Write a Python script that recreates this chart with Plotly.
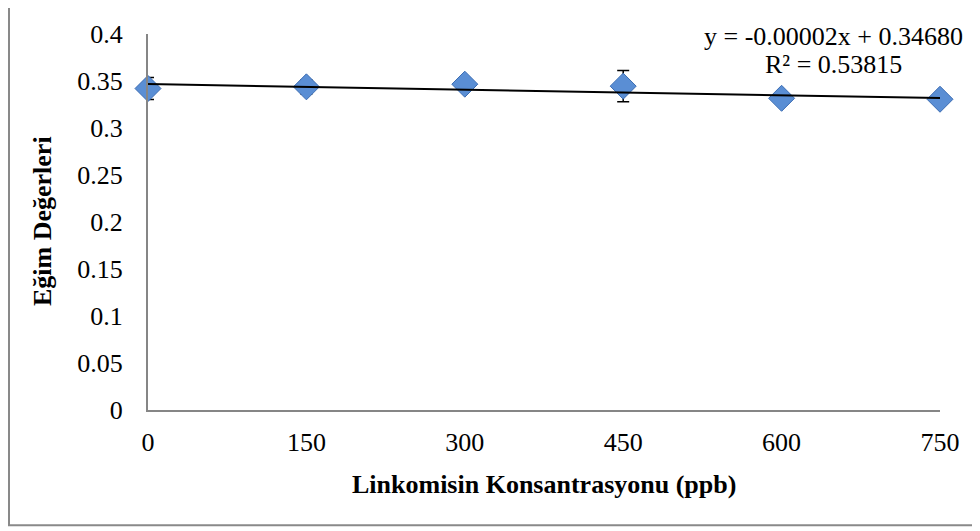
import plotly.graph_objects as go

# ---- data ----
concentrations = [0, 150, 300, 450, 600, 750]
slopes = [0.3420, 0.3438, 0.3466, 0.3445, 0.3316, 0.3306]
errors = [0.0118, 0.0075, 0.0060, 0.0166, 0.0030, 0.0040]
x_ticks = [0, 150, 300, 450, 600, 750]
y_ticks = [0, 0.05, 0.1, 0.15, 0.2, 0.25, 0.3, 0.35, 0.4]
y_tick_labels = ["0", "0.05", "0.1", "0.15", "0.2", "0.25", "0.3", "0.35", "0.4"]
trend_slope = -0.00002
trend_intercept = 0.34680
r_squared = 0.53815

FONT = "Liberation Serif, Times New Roman, serif"
FS = 26

# page offset (default body margin) compensation
OFF = 8
W, H = 980 - OFF, 531 - OFF
L, T = 148 - OFF, 28 - OFF
PW, PH = 792, 382
R = W - L - PW
B = H - T - PH


def px(xpage):
    return (xpage - OFF - L) / PW


def py(ypage):
    return (T + PH - (ypage - OFF)) / PH


trend_x = [concentrations[0], concentrations[-1]]
trend_y = [trend_intercept + trend_slope * v for v in trend_x]

fig = go.Figure()
fig.add_trace(go.Scatter(
    x=concentrations, y=slopes, mode="markers",
    marker=dict(symbol="diamond", size=20, color="#5A8ED4",
                line=dict(color="#3C6DB3", width=1)),
    error_y=dict(type="data", array=errors, visible=True,
                 color="black", thickness=1.5, width=6),
    cliponaxis=False, showlegend=False,
))
fig.add_trace(go.Scatter(
    x=trend_x, y=trend_y, mode="lines",
    line=dict(color="black", width=2), showlegend=False,
    cliponaxis=False,
))

fig.update_layout(
    width=W, height=H,
    margin=dict(l=L, r=R, t=T, b=B),
    paper_bgcolor="white", plot_bgcolor="white",
    font=dict(family=FONT, size=FS, color="black"),
    xaxis=dict(range=[0, 750], tickvals=x_ticks, ticktext=[str(v) for v in x_ticks],
               showgrid=False, zeroline=False, showline=True,
               linecolor="#868686", linewidth=2, ticks="", ticklabelstandoff=8,
               tickfont=dict(family=FONT, size=FS)),
    yaxis=dict(range=[0, 0.4], tickvals=y_ticks, ticktext=y_tick_labels,
               showgrid=False, zeroline=False, showline=True,
               linecolor="#868686", linewidth=2, ticks="", ticklabelstandoff=18,
               tickfont=dict(family=FONT, size=FS)),
    shapes=[dict(type="rect", xref="paper", yref="paper",
                 x0=px(OFF + 1), x1=px(1000),
                 y0=py(527), y1=py(-20),
                 line=dict(color="#898989", width=2), layer="below")],
    annotations=[
        dict(text="<b>Linkomisin Konsantrasyonu (ppb)</b>", xref="paper", yref="paper",
             x=px(544), y=py(486), showarrow=False,
             xanchor="center", yanchor="middle", font=dict(family=FONT, size=FS)),
        dict(text="<b>Eğim Değerleri</b>", xref="paper", yref="paper",
             x=px(42), y=py(218), showarrow=False, textangle=-90,
             xanchor="center", yanchor="middle", font=dict(family=FONT, size=FS)),
        dict(text=f"y = {trend_slope:.5f}x + {trend_intercept:.5f}",
             xref="paper", yref="paper",
             x=px(833), y=py(31), showarrow=False,
             xanchor="center", yanchor="middle", font=dict(family=FONT, size=FS)),
        dict(text=f"R² = {r_squared:.5f}",
             xref="paper", yref="paper",
             x=px(833), y=py(59), showarrow=False,
             xanchor="center", yanchor="middle", font=dict(family=FONT, size=FS)),
    ],
)

fig.write_html("out.html")
